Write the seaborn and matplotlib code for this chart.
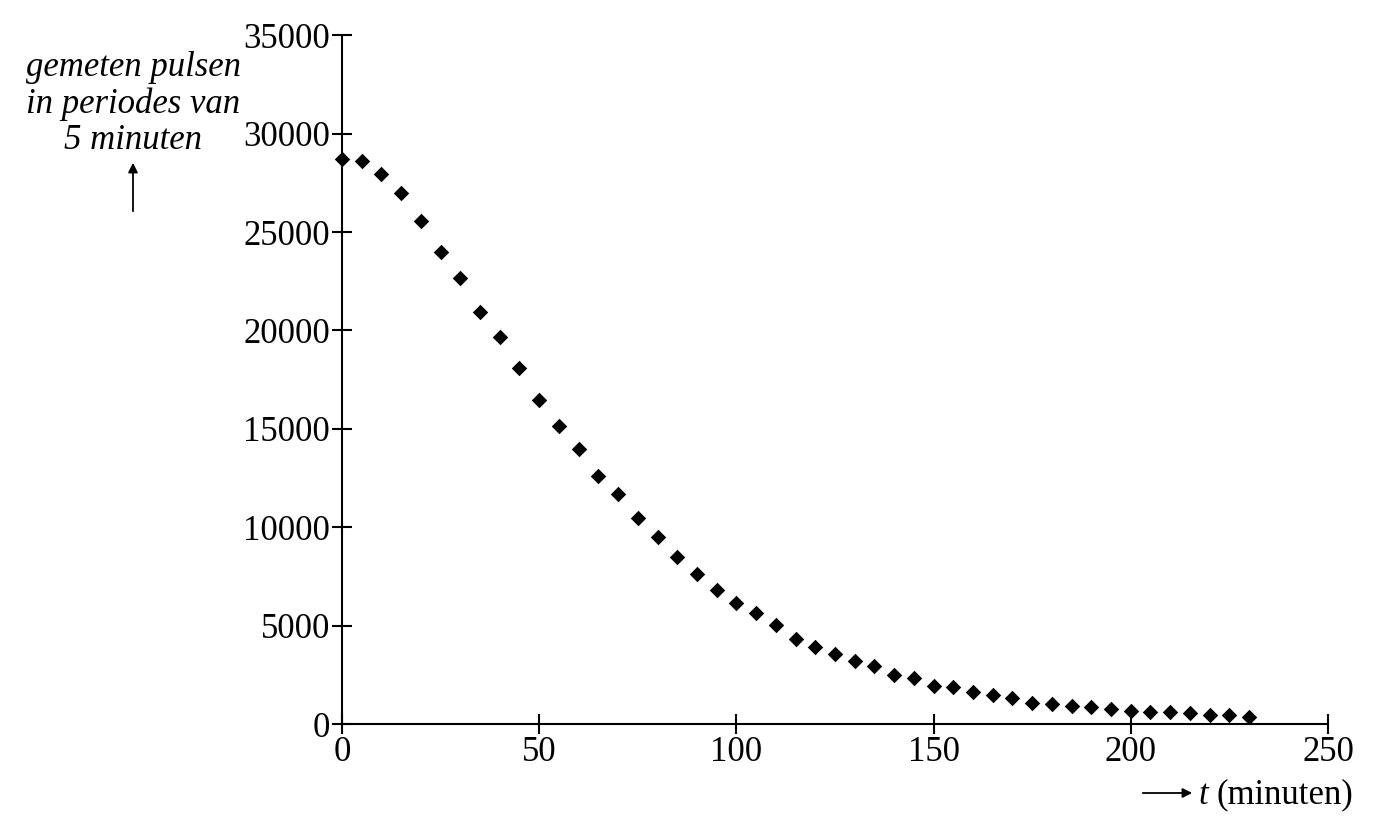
import matplotlib
matplotlib.use("Agg")
import matplotlib.pyplot as plt
import seaborn as sns
import pandas as pd

# meetpunten: elke 5 minuten
t_min = [0, 5, 10, 15, 20, 25, 30, 35, 40, 45, 50, 55, 60, 65, 70, 75, 80, 85, 90, 95,
         100, 105, 110, 115, 120, 125, 130, 135, 140, 145, 150, 155, 160, 165, 170, 175,
         180, 185, 190, 195, 200, 205, 210, 215, 220, 225, 230]
pulsen = [28690, 28600, 27970, 26990, 25560, 24000, 22680, 20940, 19690, 18070, 16460,
          15150, 13950, 12590, 11700, 10450, 9520, 8500, 7640, 6810, 6150, 5660, 5020,
          4310, 3890, 3550, 3180, 2960, 2480, 2320, 1940, 1870, 1620, 1490, 1300, 1060,
          1000, 930, 880, 760, 640, 590, 590, 540, 460, 460, 370]
x_ticks = [0, 50, 100, 150, 200, 250]
y_ticks = [0, 5000, 10000, 15000, 20000, 25000, 30000, 35000]

df = pd.DataFrame({"t": t_min, "pulsen": pulsen})

sns.set_style("ticks")
plt.rcParams['font.family'] = ['Liberation Serif', 'DejaVu Serif']
plt.rcParams['text.color'] = 'black'

fig = plt.figure(figsize=(13.79, 8.38), dpi=100)
ax = fig.add_axes([0.248, 0.136, 0.715, 0.822])

sns.scatterplot(data=df, x="t", y="pulsen", marker="D", s=62, color="black",
                linewidth=0, ax=ax, clip_on=False, zorder=3)

ax.set_xlim(0, 250)
ax.set_ylim(0, 35000)
ax.set_xticks(x_ticks)
ax.set_yticks(y_ticks)
ax.set_xticklabels([str(v) for v in x_ticks])
ax.set_yticklabels([str(v) for v in y_ticks])
ax.tick_params(axis="both", direction="inout", length=15, width=1.5,
               labelsize=25, colors="black", pad=1)
ax.set_xlabel("")
ax.set_ylabel("")
sns.despine(ax=ax)
for sp in ["left", "bottom"]:
    ax.spines[sp].set_linewidth(1.5)
    ax.spines[sp].set_color("black")

# y-as label linksboven
fig.text(133 / 1379, 1 - 104 / 838, "gemeten pulsen\nin periodes van\n5 minuten",
         ha="center", va="center", fontsize=25, style="italic", linespacing=1.12,
         color="black")
fig.add_artist(matplotlib.patches.FancyArrowPatch(
    (133 / 1379, 1 - 214 / 838), (133 / 1379, 1 - 160 / 838),
    transform=fig.transFigure, arrowstyle="-|>", mutation_scale=14,
    color="black", linewidth=1.3))

# x-as label rechtsonder
fig.add_artist(matplotlib.patches.FancyArrowPatch(
    (1140 / 1379, 1 - 793 / 838), (1195 / 1379, 1 - 793 / 838),
    transform=fig.transFigure, arrowstyle="-|>", mutation_scale=14,
    color="black", linewidth=1.3))
fig.text(1198 / 1379, 1 - 795 / 838, "t", ha="left", va="center",
         fontsize=25, style="italic", color="black")
fig.text(1216 / 1379, 1 - 795 / 838, "(minuten)", ha="left", va="center",
         fontsize=25, color="black")

fig.savefig("out.png", dpi=100, facecolor="white")
